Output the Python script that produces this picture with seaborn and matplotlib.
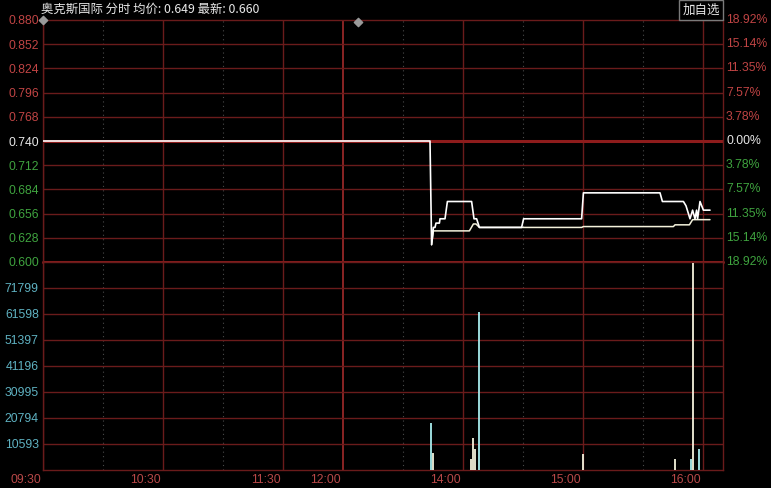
import numpy as np
import pandas as pd
import matplotlib
matplotlib.use("Agg")
import matplotlib.pyplot as plt
import matplotlib.transforms as mtransforms
import seaborn as sns

# 分时数据 (x = 交易分钟, 0 = 09:30, 150 = 12:00/13:00, 340 = 16:10)
price_min = [0, 193.5, 194.3, 195.2, 196.0, 196.5, 198.2, 198.5, 201.0, 202.2,
             214.3, 215.5, 216.8, 218.2, 239.3, 240.3, 269.3, 270.2, 308.5,
             309.7, 320.2, 321.5, 323.5, 324.8, 326.0, 326.8, 327.3, 328.5,
             330.2, 333.5]
price_val = [0.740, 0.740, 0.620, 0.640, 0.640, 0.645, 0.645, 0.650, 0.650, 0.670,
             0.670, 0.650, 0.650, 0.640, 0.640, 0.650, 0.650, 0.680, 0.680,
             0.670, 0.670, 0.665, 0.650, 0.660, 0.650, 0.660, 0.650, 0.670,
             0.660, 0.660]

avg_min = [194.3, 195.2, 213.2, 215.2, 216.5, 218.2, 269.3, 270.2, 315.2, 316.0,
           323.2, 324.8, 333.5]
avg_val = [0.620, 0.636, 0.636, 0.644, 0.644, 0.640, 0.640, 0.641, 0.641, 0.643,
           0.643, 0.649, 0.649]

vol_min = [194, 195, 214, 215, 216, 218, 270, 316, 324, 325, 328]
vol_val = [18860, 6900, 4690, 13000, 8590, 62480, 6640, 4690, 4690, 81700, 8590]
vol_dir = ['d', 'u', 'u', 'u', 'u', 'd', 'u', 'u', 'd', 'u', 'd']

price_ticks = [0.880, 0.852, 0.824, 0.796, 0.768, 0.740, 0.712, 0.684, 0.656, 0.628, 0.600]
pct_labels = ['18.92%', '15.14%', '11.35%', '7.57%', '3.78%', '0.00%',
              '3.78%', '7.57%', '11.35%', '15.14%', '18.92%']
vol_ticks = [10593, 20794, 30995, 41196, 51397, 61598, 71799]
time_ticks = [0, 60, 120, 150, 210, 270, 330]
time_labels = ['09:30', '10:30', '11:30', '12:00', '14:00', '15:00', '16:00']
dotted_ticks = [30, 90, 180, 240, 300]
marker_min = [0, 157.5]
marker_val = [0.880, 0.8777]

prev_close = 0.740
title_text = '奥克斯国际 分时 均价: 0.649 最新: 0.660'

# 样式
sns.set_style("dark", rc={'axes.facecolor': 'black', 'figure.facecolor': 'black'})
plt.rcParams['font.family'] = ['Liberation Sans', 'Noto Sans CJK SC', 'DejaVu Sans']

RED = '#c04444'
GREEN = '#3fa33f'
WHITE = '#e8e8e8'
CYAN = '#5fb2c2'
GRID = '#6a1b1b'
THICK = '#8e1c1c'
FS = 8.8

W, H = 771, 488
fig = plt.figure(figsize=(W / 100, H / 100), dpi=100)
fig.patch.set_facecolor('black')
ax_p = fig.add_axes([43 / W, (H - 262) / H, 680 / W, 242 / H])
ax_v = fig.add_axes([43 / W, (H - 470) / H, 680 / W, 208 / H])

for ax in (ax_p, ax_v):
    ax.set_facecolor('black')
    ax.set_xlim(0, 340)
    for s in ax.spines.values():
        s.set_color(GRID)
        s.set_linewidth(1.0)
    for t in time_ticks:
        ax.axvline(t, color='#8a2424' if t == 150 else GRID,
                   lw=1.4 if t == 150 else 1.0, zorder=1)
    for t in dotted_ticks:
        ax.axvline(t, color='#4a4a4a', lw=0.8, ls=(0, (1, 3)), zorder=1)

# 价格区
ax_p.set_ylim(0.600, 0.880)
for p in price_ticks[1:-1]:
    if p != prev_close:
        ax_p.axhline(p, color=GRID, lw=1.0, zorder=1)
ax_p.axhline(prev_close, color=THICK, lw=2.2, zorder=2)
ax_p.axhline(0.600, color=THICK, lw=2.2, zorder=2, clip_on=False)

df_price = pd.DataFrame({'minute': price_min, 'price': price_val})
df_avg = pd.DataFrame({'minute': avg_min, 'price': avg_val})
sns.lineplot(data=df_price, x='minute', y='price', ax=ax_p, color='#ffffff',
             lw=1.2, estimator=None, sort=False, zorder=4)
sns.lineplot(data=df_avg, x='minute', y='price', ax=ax_p, color='#f4f2dc',
             lw=1.1, estimator=None, sort=False, zorder=3)
ax_p.scatter(marker_min, marker_val, marker='D', s=18, color='#9a9a9a',
             clip_on=False, zorder=6)

ax_p.set_xticks([])
ax_p.set_yticks(price_ticks)
ax_p.set_yticklabels([f'{p:.3f}' for p in price_ticks])
ax_p.tick_params(axis='y', length=0, pad=3, labelsize=FS)
ax_p.set_xlabel('')
ax_p.set_ylabel('')
for p, lab in zip(price_ticks, ax_p.get_yticklabels()):
    lab.set_color(WHITE if p == prev_close else (RED if p > prev_close else GREEN))
for p, txt in zip(price_ticks, pct_labels):
    c = WHITE if p == prev_close else (RED if p > prev_close else GREEN)
    ax_p.text(1.0045, p, txt, transform=ax_p.get_yaxis_transform(),
              ha='left', va='center', color=c, fontsize=FS)

# 成交量区
ax_v.set_ylim(392, 82000)
for v in vol_ticks:
    ax_v.axhline(v, color=GRID, lw=1.0, zorder=1)
bar_colors = ['#a8ecee' if d == 'd' else '#f4f2dc' for d in vol_dir]
ax_v.vlines(vol_min, 392, vol_val, colors=bar_colors, lw=1.3, zorder=3)
ax_v.set_yticks(vol_ticks)
ax_v.set_yticklabels([str(v) for v in vol_ticks])
ax_v.tick_params(axis='y', length=0, pad=3, labelsize=FS, labelcolor=CYAN)
ax_v.set_xticks(time_ticks)
ax_v.set_xticklabels(time_labels, ha='right')
ax_v.tick_params(axis='x', length=0, pad=3, labelsize=FS, labelcolor='#b84848')
shift = mtransforms.ScaledTranslation(-2 / 100, 0, fig.dpi_scale_trans)
for lab in ax_v.get_xticklabels():
    lab.set_transform(lab.get_transform() + shift)

# 标题
fig.text(41 / W, 1 - 9 / H, title_text, ha='left', va='center', color=WHITE,
         fontsize=8.9, family=['Noto Sans CJK SC', 'DejaVu Sans'])
fig.text(701 / W, 1 - 10 / H, '加自选', ha='center', va='center', color=WHITE,
         fontsize=9, family=['Noto Sans CJK SC', 'DejaVu Sans'],
         bbox=dict(facecolor='black', edgecolor='#7a7a7a', boxstyle='square,pad=0.25'))

fig.savefig('out.png', dpi=100, facecolor='black')
